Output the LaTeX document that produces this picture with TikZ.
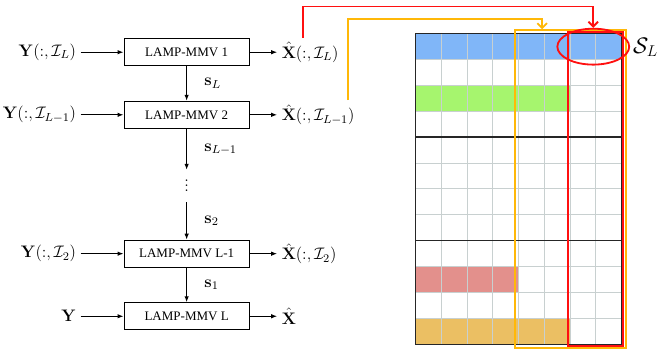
\RequirePackage{fix-cm}
\documentclass[tikz,border=0pt]{standalone}
\usepackage[no-math]{fontspec}
\usepackage{amsmath}
\usepackage{amssymb}
\usetikzlibrary{positioning, arrows.meta, shapes.geometric}
\newfontfamily\boxfont{Liberation Serif}
\definecolor{rowBlue}{HTML}{80B6F8}
\definecolor{rowGreen}{HTML}{A6F56E}
\definecolor{rowRed}{HTML}{E3908C}
\definecolor{rowGold}{HTML}{EBBF63}
\definecolor{selRed}{HTML}{FF1010}
\definecolor{selGold}{HTML}{FFB808}
\definecolor{gridGray}{HTML}{C8D0D0}

\begin{document}
\begin{tikzpicture}[
  arr/.style={-{Latex[length=1.6mm]}, thick},
  lamp/.style={rectangle, draw=black, thick, font=\boxfont,
               minimum width=3.38cm, minimum height=0.73cm, inner sep=2pt},
  sym/.style={font=\fontsize{12.8}{15}\selectfont},
  cellgrid/.style={draw=gridGray, line width=0.6pt},
  blockline/.style={draw=black!85, line width=1.1pt},
  selred/.style={rectangle, draw=selRed, line width=1.4pt, inner sep=0pt},
  selgold/.style={rectangle, draw=selGold, line width=1.4pt, inner sep=0pt},
  redarr/.style={-{Straight Barb[length=1.3mm]}, draw=selRed, line width=1.4pt},
  goldarr/.style={-{Straight Barb[length=1.3mm]}, draw=selGold, line width=1.4pt}
]
\useasboundingbox (0,0) rectangle (17.93,-9.64);

% LAMP-MMV chain
\node[lamp] (b1) at (5.04,-1.41) {LAMP-MMV 1};
\node[lamp] (b2) at (5.04,-3.10) {LAMP-MMV 2};
\node[lamp] (b3) at (5.04,-6.85) {LAMP-MMV L-1};
\node[lamp] (b4) at (5.04,-8.54) {LAMP-MMV L};
\node[sym, inner sep=0pt, minimum height=0.856cm] (dots) at (5.04,-5.02)
  {\raisebox{3pt}[\height][\depth]{$\vdots$}};

\node[sym, left=1.16cm of b1]  (in1)  {$\mathbf{Y}(:,\mathcal{I}_L)$};
\node[sym, left=1.16cm of b2]  (in2)  {$\mathbf{Y}(:,\mathcal{I}_{L-1})$};
\node[sym, left=1.16cm of b3]  (in3)  {$\mathbf{Y}(:,\mathcal{I}_2)$};
\node[sym, left=1.16cm of b4]  (in4)  {$\mathbf{Y}$};
\node[sym, right=0.74cm of b1] (out1) {$\hat{\mathbf{X}}(:,\mathcal{I}_L)$};
\node[sym, right=0.74cm of b2] (out2) {$\hat{\mathbf{X}}(:,\mathcal{I}_{L-1})$};
\node[sym, right=0.74cm of b3] (out3) {$\hat{\mathbf{X}}(:,\mathcal{I}_2)$};
\node[sym, right=0.74cm of b4] (out4) {$\hat{\mathbf{X}}$};

\foreach \i in {1,...,4} {
  \draw[arr] (in\i) -- (b\i);
  \draw[arr] (b\i) -- (out\i);
}
\draw[arr] (b1) -- node[sym, midway, right=0.35cm]{$\mathbf{s}_L$} (b2);
\draw[arr] (b2) -- node[sym, midway, right=0.35cm]{$\mathbf{s}_{L-1}$} (dots);
\draw[arr] (dots) -- node[sym, midway, right=0.35cm]{$\mathbf{s}_2$} (b3);
\draw[arr] (b3) -- node[sym, midway, right=0.35cm]{$\mathbf{s}_1$} (b4);

% row-sparse matrix
\fill[rowBlue]  (11.22,-0.90) rectangle ++(5.56,-0.70);
\fill[rowGreen] (11.22,-2.30) rectangle ++(4.17,-0.70);
\fill[rowRed]   (11.22,-7.20) rectangle ++(2.78,-0.70);
\fill[rowGold]  (11.22,-8.60) rectangle ++(4.17,-0.70);
\foreach \c in {1,...,7}
  \draw[cellgrid] (11.22+\c*0.695,-0.90) -- ++(0,-8.40);
\foreach \r in {1,...,11}
  \draw[cellgrid] (11.22,-0.90-\r*0.70) -- ++(5.56,0);
\draw[blockline] (11.22,-0.90) rectangle (16.78,-9.30);
\draw[blockline] (11.22,-3.70) -- (16.78,-3.70);
\draw[blockline] (11.22,-6.50) -- (16.78,-6.50);

% selected columns
\node[selgold, minimum width=3.00cm, minimum height=8.59cm] (orect) at (15.40,-5.11) {};
\node[selred, minimum width=1.50cm, minimum height=8.48cm] (rrect) at (16.08,-5.10) {};
\node[ellipse, draw=selRed, line width=1.4pt, inner sep=0pt,
      minimum width=1.94cm, minimum height=0.97cm] (sl) at (16.02,-1.26) {};
\node (slabel) at (17.43,-1.28) {\LARGE $\mathcal{S}_L$};

\draw[redarr] ([xshift=0.70cm]out1.north west) -- ++(0,0.84) -| (sl.north);
\draw[goldarr] ([xshift=-0.29cm]out2.north east) -- ++(0,2.19) -| ([xshift=-0.76cm]orect.north);
\end{tikzpicture}
\end{document}
